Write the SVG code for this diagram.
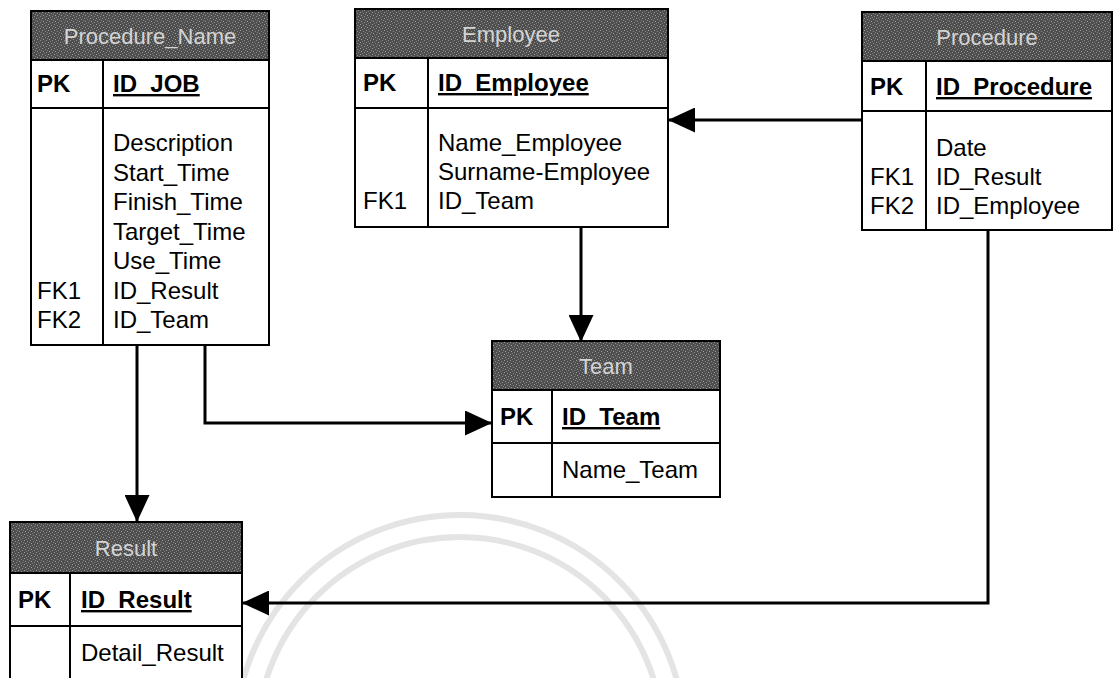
<svg xmlns="http://www.w3.org/2000/svg" width="1119" height="678" viewBox="0 0 1119 678">
<defs>
<pattern id="dither" width="6" height="6" patternUnits="userSpaceOnUse">
<rect width="6" height="6" fill="#4e4e4e"/>
<rect x="0" y="0" width="1" height="1" fill="#9a9a9a"/>
<rect x="3" y="1" width="1" height="1" fill="#8c8c8c"/>
<rect x="1" y="3" width="1" height="1" fill="#a0a0a0"/>
<rect x="4" y="4" width="1" height="1" fill="#909090"/>
<rect x="2" y="5" width="1" height="1" fill="#7a7a7a"/>
<rect x="5" y="2" width="1" height="1" fill="#858585"/>
</pattern>
<marker id="arrow" viewBox="0 0 27 25" refX="27" refY="12.5" markerWidth="27" markerHeight="25" markerUnits="userSpaceOnUse" orient="auto">
<path d="M0,0 L27,12.5 L0,25 z" fill="#000"/>
</marker>
<style>
.box{fill:#fff;stroke:#000;stroke-width:2}
.hdr{fill:url(#dither);stroke:#000;stroke-width:2}
.ln{stroke:#000;stroke-width:2;fill:none}
.title{font-family:"Liberation Sans",Arial,sans-serif;font-size:22px;fill:#d4d4d4;text-anchor:middle}
.t{font-family:"Liberation Sans",Arial,sans-serif;font-size:24px;fill:#000}
.pk{font-family:"Liberation Sans",Arial,sans-serif;font-size:24px;font-weight:bold;fill:#000}
.pku{font-family:"Liberation Sans",Arial,sans-serif;font-size:24px;font-weight:bold;fill:#000;text-decoration:underline}
.conn{stroke:#000;stroke-width:3;fill:none}
.wm{stroke:#e4e4e4;stroke-width:6;fill:none}
</style>
</defs>

<g id="watermark">
<circle class="wm" cx="460" cy="740" r="225"/>
<circle class="wm" cx="460" cy="740" r="203"/>
</g>

<g id="connectors">
<path class="conn" d="M862,120 H668" marker-end="url(#arrow)"/>
<path class="conn" d="M581,227 V342" marker-end="url(#arrow)"/>
<path class="conn" d="M205,345 V423 H492" marker-end="url(#arrow)"/>
<path class="conn" d="M137,345 V522" marker-end="url(#arrow)"/>
<path class="conn" d="M988,230 V603 H242" marker-end="url(#arrow)"/>
</g>

<g id="procedure_name">
<rect class="hdr" x="31" y="11" width="238" height="49"/>
<text class="title" x="150" y="44">Procedure_Name</text>
<rect class="box" x="31" y="60" width="238" height="48"/>
<rect class="box" x="31" y="108" width="238" height="237"/>
<line class="ln" x1="103" y1="60" x2="103" y2="345"/>
<text class="pk" x="37" y="92">PK</text>
<text class="pku" x="113" y="92">ID_JOB</text>
<text class="t" x="113" y="151">Description</text>
<text class="t" x="113" y="180.5">Start_Time</text>
<text class="t" x="113" y="210">Finish_Time</text>
<text class="t" x="113" y="239.5">Target_Time</text>
<text class="t" x="113" y="269">Use_Time</text>
<text class="t" x="113" y="298.5">ID_Result</text>
<text class="t" x="113" y="328">ID_Team</text>
<text class="t" x="37" y="298.5">FK1</text>
<text class="t" x="37" y="328">FK2</text>
</g>

<g id="employee">
<rect class="hdr" x="355" y="9" width="313" height="49"/>
<text class="title" x="511" y="42">Employee</text>
<rect class="box" x="355" y="58" width="313" height="50"/>
<rect class="box" x="355" y="108" width="313" height="119"/>
<line class="ln" x1="428" y1="58" x2="428" y2="227"/>
<text class="pk" x="363" y="91">PK</text>
<text class="pku" x="438" y="91">ID_Employee</text>
<text class="t" x="438" y="151">Name_Employee</text>
<text class="t" x="438" y="180">Surname-Employee</text>
<text class="t" x="438" y="209">ID_Team</text>
<text class="t" x="363" y="209">FK1</text>
</g>

<g id="procedure">
<rect class="hdr" x="862" y="12" width="250" height="49"/>
<text class="title" x="987" y="45">Procedure</text>
<rect class="box" x="862" y="61" width="250" height="50"/>
<rect class="box" x="862" y="111" width="250" height="119"/>
<line class="ln" x1="926" y1="61" x2="926" y2="230"/>
<text class="pk" x="870" y="95">PK</text>
<text class="pku" x="936" y="95">ID_Procedure</text>
<text class="t" x="936" y="156">Date</text>
<text class="t" x="936" y="185">ID_Result</text>
<text class="t" x="936" y="214">ID_Employee</text>
<text class="t" x="870" y="185">FK1</text>
<text class="t" x="870" y="214">FK2</text>
</g>

<g id="team">
<rect class="hdr" x="492" y="341" width="228" height="49"/>
<text class="title" x="606" y="374">Team</text>
<rect class="box" x="492" y="390" width="228" height="53"/>
<rect class="box" x="492" y="443" width="228" height="54"/>
<line class="ln" x1="552" y1="390" x2="552" y2="497"/>
<text class="pk" x="500" y="425">PK</text>
<text class="pku" x="562" y="425">ID_Team</text>
<text class="t" x="562" y="478">Name_Team</text>
</g>

<g id="result">
<rect class="hdr" x="10" y="522" width="232" height="51"/>
<text class="title" x="126" y="556">Result</text>
<rect class="box" x="10" y="573" width="232" height="53"/>
<rect class="box" x="10" y="626" width="232" height="64"/>
<line class="ln" x1="70" y1="573" x2="70" y2="690"/>
<text class="pk" x="18" y="608">PK</text>
<text class="pku" x="81" y="608">ID_Result</text>
<text class="t" x="81" y="661">Detail_Result</text>
</g>
</svg>
